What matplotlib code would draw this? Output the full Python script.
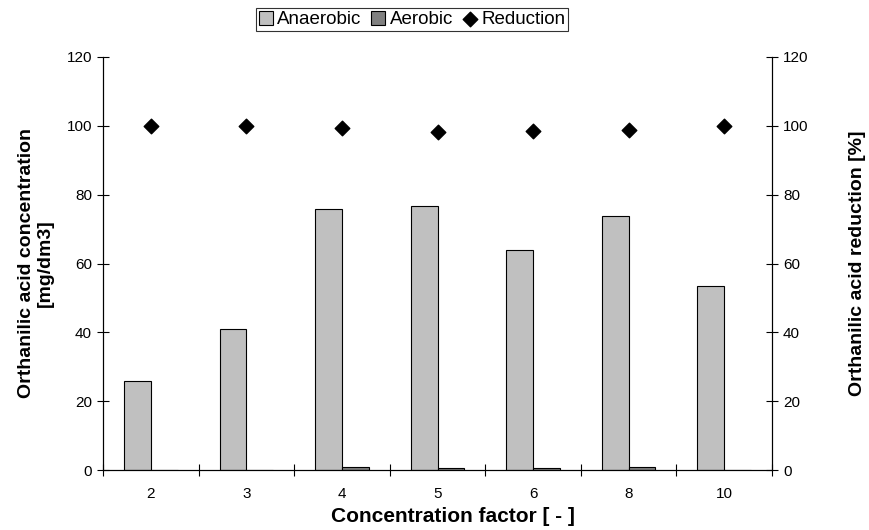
import matplotlib
matplotlib.use("Agg")
import matplotlib.pyplot as plt
import numpy as np

plt.rcParams['font.family'] = ['Liberation Sans', 'DejaVu Sans']

categories = ["2", "3", "4", "5", "6", "8", "10"]
anaerobic = [25.9, 41.0, 75.8, 76.7, 63.9, 73.8, 53.5]
aerobic = [0.0, 0.0, 0.8, 0.6, 0.5, 1.0, 0.0]
reduction = [100.0, 100.0, 99.5, 98.3, 98.6, 98.8, 100.0]

fig = plt.figure(figsize=(8.69, 5.30), dpi=100)
ax = fig.add_axes([103 / 869, 60 / 530, 669 / 869, 413 / 530])

x = np.arange(len(categories))
w = 0.28
b1 = ax.bar(x - w / 2, anaerobic, w, color="#C0C0C0", edgecolor="black",
            linewidth=0.8, label="Anaerobic")
b2 = ax.bar(x + w / 2, aerobic, w, color="#808080", edgecolor="black",
            linewidth=0.8, label="Aerobic")

ax.set_xlim(-0.5, len(categories) - 0.5)
ax.set_ylim(0, 120)
ax.set_yticks(range(0, 121, 20))
ax.set_xticks(x)
ax.set_xticklabels(categories)
ax.set_xticks(np.arange(-0.5, len(categories) - 0.4, 1), minor=True)
ax.tick_params(axis="x", which="major", length=0, pad=12, labelsize=11)
ax.tick_params(axis="x", which="minor", direction="inout", length=9, width=0.8)
ax.tick_params(axis="y", direction="inout", length=9, width=0.8, labelsize=11)
ax.spines["top"].set_visible(False)
for s in ["left", "bottom", "right"]:
    ax.spines[s].set_linewidth(0.8)

ax.set_ylabel("Orthanilic acid concentration\n[mg/dm3]", fontsize=14,
              fontweight="bold")
ax.yaxis.set_label_coords(-0.073, 0.5)
ax.set_xlabel("Concentration factor [ - ]", fontsize=15, fontweight="bold")
ax.xaxis.set_label_coords(0.523, -0.09)

ax2 = ax.twinx()
ax2.set_ylim(0, 120)
ax2.set_yticks(range(0, 121, 20))
ax2.tick_params(axis="y", direction="inout", length=9, width=0.8, labelsize=11)
ax2.spines["top"].set_visible(False)
ax2.spines["right"].set_linewidth(0.8)
sc = ax2.scatter(x, reduction, marker="D", s=55, color="black", zorder=5,
                 label="Reduction")
ax2.set_ylabel("Orthanilic acid reduction [%]", fontsize=14, fontweight="bold")
ax2.yaxis.set_label_coords(1.115, 0.5)

leg = fig.legend(handles=[b1, b2, sc], loc="center",
                 bbox_to_anchor=(412 / 869, 1 - 19.5 / 530),
                 ncol=3, fontsize=13.5, frameon=True, fancybox=False,
                 handlelength=0.75, handleheight=0.75, handletextpad=0.25,
                 columnspacing=0.5, borderpad=0.15, borderaxespad=0)
leg.get_frame().set_edgecolor("black")
leg.get_frame().set_linewidth(0.8)

fig.savefig("out.png", dpi=100)
